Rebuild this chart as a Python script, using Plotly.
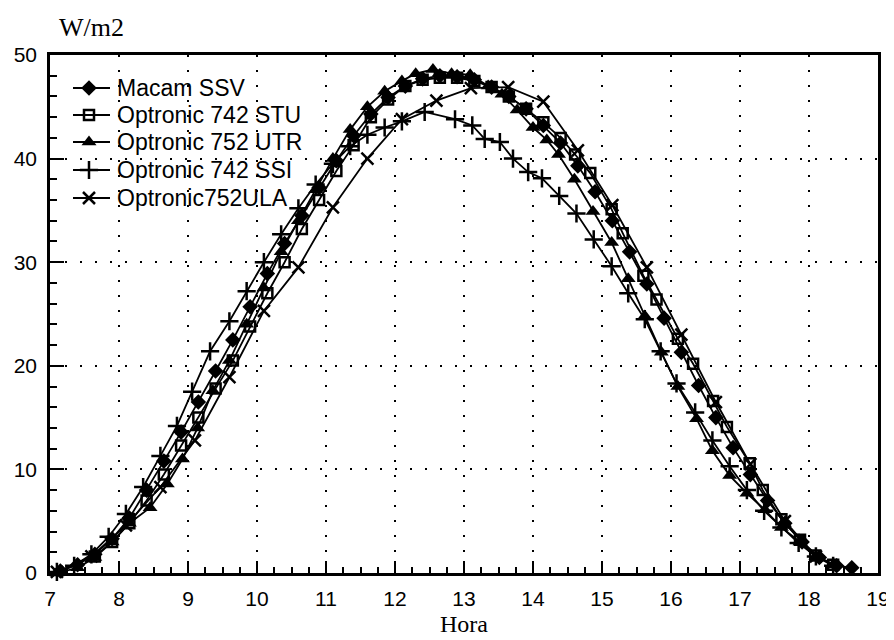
import plotly.graph_objects as go

# ---------------- data ----------------
hours_ticks = list(range(7, 20))
y_ticks = [0, 10, 20, 30, 40, 50]

series_names = ["Macam SSV", "Optronic 742 STU", "Optronic 752 UTR", "Optronic 742 SSI", "Optronic752ULA"]

ssv_t = [7.15, 7.4, 7.65, 7.9, 8.15, 8.4, 8.65, 8.9, 9.15, 9.4, 9.65, 9.9, 10.15, 10.4, 10.65, 10.9,
         11.15, 11.4, 11.65, 11.9, 12.15, 12.4, 12.65, 12.9, 13.15, 13.4, 13.65, 13.9, 14.15, 14.4,
         14.65, 14.9, 15.15, 15.4, 15.65, 15.9, 16.15, 16.4, 16.65, 16.9, 17.15, 17.4, 17.65, 17.9,
         18.15, 18.4, 18.62]
ssv_v = [0.2, 0.8, 1.8, 3.3, 5.3, 8.0, 10.8, 13.6, 16.5, 19.5, 22.5, 25.7, 28.9, 31.8, 34.5, 37.2,
         39.8, 42.2, 44.3, 45.9, 47.0, 47.7, 48.0, 47.9, 47.6, 46.9, 46.0, 44.8, 43.2, 41.5,
         39.3, 36.8, 34.0, 31.0, 27.9, 24.6, 21.3, 18.1, 15.0, 12.1, 9.5, 7.0, 4.8, 3.0,
         1.5, 0.7, 0.5]

stu_t = [7.65, 7.9, 8.15, 8.4, 8.65, 8.9, 9.15, 9.4, 9.65, 9.9, 10.15, 10.4, 10.65, 10.9, 11.15,
         11.4, 11.65, 11.9, 12.15, 12.4, 12.65, 12.9, 13.15, 13.4, 13.65, 13.9, 14.15, 14.4,
         14.61, 14.83, 15.14, 15.3, 15.6, 15.79, 16.1, 16.32, 16.61, 16.81, 17.14, 17.33, 17.6,
         17.87, 18.09, 18.35]
stu_v = [1.6, 3.0, 4.8, 7.0, 9.5, 12.3, 15.0, 17.8, 20.5, 23.8, 27.0, 30.0, 33.2, 36.0, 38.8,
         41.3, 44.0, 45.7, 47.0, 47.6, 47.8, 47.8, 47.5, 46.9, 46.0, 44.8, 43.5, 42.0,
         40.4, 38.6, 35.1, 32.8, 28.7, 26.4, 22.6, 20.2, 16.6, 14.1, 10.6, 8.0, 5.2,
         3.2, 1.7, 0.8]

utr_t = [7.1, 7.4, 7.65, 7.9, 8.15, 8.45, 8.7, 8.92, 9.14, 9.36, 9.6, 9.85, 10.1, 10.35, 10.6,
         10.85, 11.1, 11.35, 11.6, 11.85, 12.1, 12.3, 12.55, 12.82, 13.09, 13.35, 13.55, 13.77,
         14.0, 14.2, 14.37, 14.6, 14.87, 15.14, 15.38, 15.62, 15.86, 16.1, 16.37, 16.6, 16.85,
         17.1, 17.36, 17.6, 17.87, 18.1, 18.35]
utr_v = [0.0, 0.5, 1.5, 3.0, 4.8, 6.3, 8.6, 11.0, 14.0, 17.6, 20.5, 24.0, 27.5, 31.0, 34.0,
         37.0, 40.0, 42.8, 45.0, 46.5, 47.5, 48.2, 48.6, 48.2, 48.1, 47.0, 46.2, 44.7,
         43.0, 41.8, 40.4, 38.0, 34.9, 31.9, 28.4, 24.8, 21.3, 18.0, 14.9, 11.8, 9.4,
         7.7, 6.1, 4.4, 3.0, 1.6, 0.8]

ssi_t = [7.1, 7.35, 7.6, 7.85, 8.1, 8.35, 8.6, 8.84, 9.06, 9.32, 9.6, 9.85, 10.1, 10.35, 10.6,
         10.85, 11.1, 11.35, 11.6, 11.85, 12.1, 12.43, 12.87, 13.12, 13.3, 13.52, 13.71, 13.93,
         14.13, 14.38, 14.63, 14.88, 15.14, 15.38, 15.62, 15.85, 16.08, 16.35, 16.6, 16.85,
         17.1, 17.35, 17.6, 17.85, 18.1, 18.35]
ssi_v = [0.1, 0.7, 1.8, 3.5, 5.7, 8.3, 11.3, 14.2, 17.5, 21.4, 24.3, 27.2, 30.0, 32.7, 35.2,
         37.5, 39.5, 41.2, 42.3, 43.0, 43.6, 44.5, 43.8, 43.2, 41.9, 41.6, 40.0, 38.7,
         38.1, 36.4, 34.7, 32.2, 29.6, 27.0, 24.5, 21.4, 18.3, 15.5, 12.8, 10.3,
         8.0, 6.0, 4.4, 2.9, 1.6, 0.7]

ula_t = [7.1, 7.6, 8.1, 8.6, 9.1, 9.6, 10.1, 10.6, 11.1, 11.6, 12.1, 12.6, 13.1, 13.64, 14.15,
         14.65, 15.15, 15.65, 16.15, 16.65, 17.15, 17.65, 18.1]
ula_v = [0.1, 1.6, 4.6, 8.3, 12.8, 18.9, 25.3, 29.5, 35.3, 40.0, 43.8, 45.6, 46.8, 46.9, 45.5,
         40.8, 35.5, 29.5, 23.0, 16.5, 10.5, 5.0, 1.6]

# ---------------- styles ----------------
BLACK = "#000000"
markers = [
    dict(symbol="diamond", size=12, color=BLACK),
    dict(symbol="square-open", size=10, color=BLACK, line=dict(width=2.5, color=BLACK)),
    dict(symbol="triangle-up", size=13, color=BLACK),
    dict(symbol="cross-thin", size=13, color=BLACK, line=dict(width=2.5, color=BLACK)),
    dict(symbol="x-thin", size=12, color=BLACK, line=dict(width=2.5, color=BLACK)),
]
all_t = [ssv_t, stu_t, utr_t, ssi_t, ula_t]
all_v = [ssv_v, stu_v, utr_v, ssi_v, ula_v]

fig = go.Figure()
for name, t, v, mk in zip(series_names, all_t, all_v, markers):
    fig.add_trace(go.Scatter(x=t, y=v, mode="lines+markers", name=name,
                             line=dict(color=BLACK, width=1.8), marker=mk,
                             showlegend=False, cliponaxis=False))

# ---------------- geometry (page body has an 8px margin) ----------------
OFF = 8
W, H = 894 - OFF, 640 - OFF
# target screen positions of the plot frame: x 50..878, y 55..573
ML, MR, MT, MB = 50 - OFF, 894 - 878, 55 - OFF, 640 - 573
PW, PH = W - ML - MR, H - MT - MB

def px2fx(px):
    return (px - OFF - ML) / PW

def py2fy(py):
    return (H - MB - (py - OFF)) / PH

leg_rows = [88, 115, 142, 170, 198]
for name, mk, row in zip(series_names, markers, leg_rows):
    fy = py2fy(row)
    fig.add_trace(go.Scatter(x=[px2fx(73), px2fx(110)], y=[fy, fy], mode="lines",
                             line=dict(color=BLACK, width=1.8), xaxis="x2", yaxis="y2",
                             showlegend=False, hoverinfo="skip"))
    fig.add_trace(go.Scatter(x=[px2fx(89)], y=[fy], mode="markers", marker=mk,
                             xaxis="x2", yaxis="y2", showlegend=False, hoverinfo="skip"))
    fig.add_annotation(x=px2fx(115), y=fy, xref="paper", yref="paper", text=name,
                       showarrow=False, xanchor="left", yanchor="middle",
                       font=dict(family="Liberation Sans, Arial", size=23, color=BLACK))

fig.add_annotation(x=px2fx(91), y=py2fy(27), xref="paper", yref="paper", text="W/m2",
                   showarrow=False, xanchor="center", yanchor="middle",
                   font=dict(family="Liberation Serif, Times New Roman", size=26, color=BLACK))
fig.add_annotation(x=px2fx(464), y=py2fy(624), xref="paper", yref="paper", text="Hora",
                   showarrow=False, xanchor="center", yanchor="middle", borderpad=0,
                   font=dict(family="Liberation Serif, Times New Roman", size=24, color=BLACK))

axis_common = dict(
    showline=True, mirror=True, linecolor=BLACK, linewidth=2.5,
    ticks="inside", tickwidth=2, tickcolor=BLACK,
    showgrid=True, gridcolor=BLACK, gridwidth=2, griddash="2px,13px",
    zeroline=False, automargin=False,
    tickfont=dict(family="Liberation Sans, Arial", size=21, color=BLACK),
)

fig.update_layout(
    width=W, height=H,
    margin=dict(l=ML, r=MR, t=MT, b=MB),
    plot_bgcolor="white", paper_bgcolor="white",
    showlegend=False,
    xaxis=dict(range=[7, 19], tickvals=hours_ticks, ticklen=12,
               minor=dict(dtick=0.25, tick0=7, ticks="inside", ticklen=6, tickwidth=2,
                          tickcolor=BLACK, showgrid=False),
               ticklabelstandoff=5, **axis_common),
    yaxis=dict(range=[0, 50], tickvals=y_ticks, ticklen=14,
               minor=dict(dtick=2, tick0=0, ticks="inside", ticklen=7, tickwidth=2,
                          tickcolor=BLACK, showgrid=False),
               ticklabelstandoff=6, **axis_common),
    xaxis2=dict(overlaying="x", anchor="y2", range=[0, 1], visible=False),
    yaxis2=dict(overlaying="y", anchor="x2", range=[0, 1], visible=False),
)

fig.write_html("out.html")
